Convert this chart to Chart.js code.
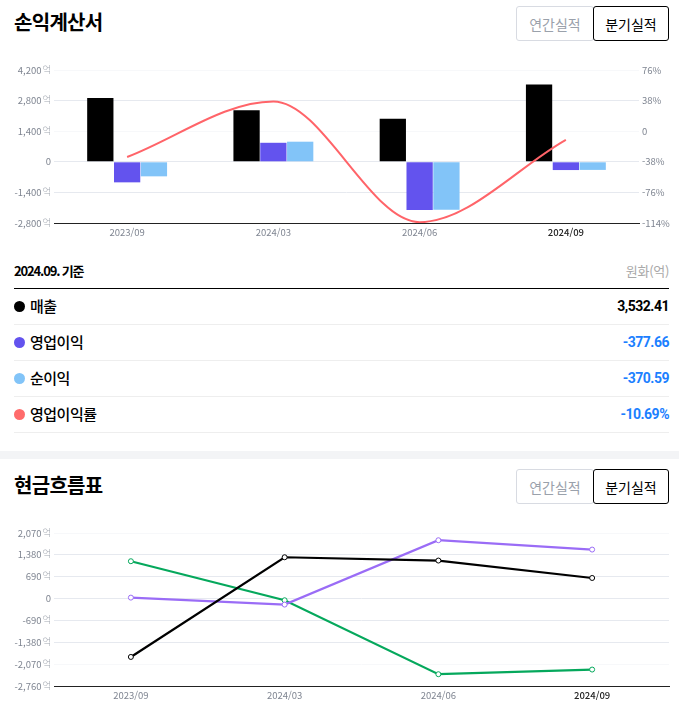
<!DOCTYPE html>
<html lang="ko">
<head>
  <meta charset="UTF-8">
  <title>손익계산서 / 현금흐름표</title>
  <script src="https://cdn.jsdelivr.net/npm/chart.js"></script>
  <style>
    html, body { margin: 0; padding: 0; background: #fff; }
    body {
      position: relative;
      width: 679px;
      height: 707px;
      overflow: hidden;
      font-family: "Noto Sans CJK KR", sans-serif;
      color: #000;
    }
    h2 {
      position: absolute;
      left: 14px;
      margin: 0;
      font-size: 20px;
      line-height: 28px;
      font-weight: 700;
      letter-spacing: -0.7px;
    }
    .toggle-btn {
      position: absolute;
      box-sizing: border-box;
      height: 35px;
      padding: 0;
      font-family: inherit;
      font-size: 14px;
      background: #fff;
      border-radius: 3px;
    }
    .toggle-btn.off { left: 516px; width: 78px; color: #9aa1ab; border: 1px solid #d8dbe2; }
    .toggle-btn.on { left: 593px; width: 76px; color: #000; border: 1px solid #000; }
    canvas { position: absolute; left: 0; }
    #summary { position: absolute; left: 14px; top: 253px; width: 655px; }
    #summary .head {
      display: flex;
      justify-content: space-between;
      align-items: center;
      height: 35px;
      border-bottom: 1px solid #000;
      font-size: 13px;
      letter-spacing: -1.15px;
    }
    #summary .head b { font-weight: 700; }
    #summary .head span { color: #a9a9a9; letter-spacing: -0.3px; }
    #summary .row {
      display: flex;
      justify-content: space-between;
      align-items: center;
      box-sizing: border-box;
      height: 36px;
      padding-bottom: 3px;
      border-bottom: 1px solid #eeeeee;
      font-size: 15px;
      font-weight: 500;
      letter-spacing: -0.5px;
    }
    #summary .dot {
      display: inline-block;
      width: 11px;
      height: 11px;
      border-radius: 50%;
      margin-right: 5px;
      vertical-align: -0.5px;
    }
    #summary .num { font-family: Roboto, sans-serif; font-weight: 700; font-size: 14px; padding-top: 1px; }
    #divider { position: absolute; left: 0; top: 451px; width: 679px; height: 8px; background: #f3f4f6; }
  </style>
</head>
<body>

<h2 style="top:8px">손익계산서</h2>
<button class="toggle-btn off" style="top:6px">연간실적</button>
<button class="toggle-btn on" style="top:6px">분기실적</button>
<canvas id="incomeChart" width="679" height="180" style="top:60px"></canvas>

<div id="summary">
  <div class="head"><b>2024.09. 기준</b><span>원화(억)</span></div>
</div>

<div id="divider"></div>

<h2 style="top:471px">현금흐름표</h2>
<button class="toggle-btn off" style="top:469px">연간실적</button>
<button class="toggle-btn on" style="top:469px">분기실적</button>
<canvas id="cashChart" width="679" height="180" style="top:523px"></canvas>

<script>
  const periods = ['2023/09', '2024/03', '2024/06', '2024/09'];

  // income statement (억, margin in %)
  const sales = [2915, 2360, 1970, 3532.41];
  const operatingProfit = [-940, 870, -2200, -377.66];
  const netProfit = [-665, 920, -2190, -370.59];
  const operatingMargin = [-32, 37, -113, -10.69];

  // cash flow (억)
  const cashBlack = [-1843, 1304, 1200, 650];
  const cashPurple = [30, -190, 1842, 1547];
  const cashGreen = [1179, -53, -2388, -2241];

  // summary table
  const summaryLabels = ['매출', '영업이익', '순이익', '영업이익률'];
  const summaryValues = ['3,532.41', '-377.66', '-370.59', '-10.69%'];

  const BLACK = '#000000';
  const INDIGO = '#6353ee';
  const SKY = '#82c4f8';
  const CORAL = '#ff6469';
  const PURPLE = '#9a6cf6';
  const GREEN = '#05a85c';
  const summaryDots = [BLACK, INDIGO, SKY, '#ff6b6b'];

  const GRID = '#e6e9ef';
  const GRID_FAINT = '#f7f8fa';
  const TICK = '#7f8591';
  const FONT = '"Noto Sans CJK KR", sans-serif';

  // table rows
  const summary = document.getElementById('summary');
  summaryLabels.forEach((label, i) => {
    const row = document.createElement('div');
    row.className = 'row';
    const negative = summaryValues[i].startsWith('-');
    row.innerHTML = `<div><span class="dot" style="background:${summaryDots[i]}"></span>${label}</div>` +
      `<div class="num" style="color:${negative ? '#1b80ff' : '#000'}">${summaryValues[i]}</div>`;
    summary.appendChild(row);
  });

  // the 억 suffix is thinner and lighter than the digits, so it goes on after the ticks
  const unitPlugin = {
    id: 'unitPlugin',
    afterDraw(chart) {
      const scale = chart.scales.y;
      const ctx = chart.ctx;
      ctx.save();
      ctx.font = '300 9.5px ' + FONT;
      ctx.fillStyle = '#a4a9b2';
      ctx.textAlign = 'left';
      ctx.textBaseline = 'middle';
      scale.ticks.forEach(t => {
        if (t.value !== 0) ctx.fillText('억', 42.5, scale.getPixelForValue(t.value) - 1);
      });
      ctx.restore();
    }
  };

  function xAxis() {
    return {
      offset: true,
      afterFit: s => { s.height = 17; },
      grid: { display: false, drawTicks: false },
      border: { color: '#222222', width: 1 },
      ticks: {
        padding: 4,
        maxRotation: 0,
        color: c => c.index === periods.length - 1 ? '#222222' : TICK,
        font: c => ({ family: FONT, size: 9.5, weight: c.index === periods.length - 1 ? 500 : 400 })
      }
    };
  }

  function leftAxis(min, max, step, faint) {
    return {
      min, max,
      afterFit: s => { s.width = 54; },
      border: { display: false },
      grid: {
        drawTicks: false,
        color: c => faint.includes(c.index) ? GRID_FAINT : GRID
      },
      ticks: {
        stepSize: step,
        padding: 3,
        color: TICK,
        font: { family: FONT, size: 9.5 },
        // em space keeps room for the suffix
        callback: v => v === 0 ? '0' : v.toLocaleString('en-US') + '\u2003'
      }
    };
  }

  new Chart(document.getElementById('incomeChart'), {
    type: 'bar',
    data: {
      labels: periods,
      datasets: [
        { type: 'line', data: operatingMargin, yAxisID: 'y1', order: 0, borderColor: CORAL, borderWidth: 2,
          pointRadius: 0, fill: false, cubicInterpolationMode: 'monotone' },
        { data: sales, backgroundColor: BLACK, order: 1 },
        { data: operatingProfit, backgroundColor: INDIGO, order: 1 },
        { data: netProfit, backgroundColor: SKY, order: 1 }
      ]
    },
    options: {
      responsive: false,
      animation: false,
      layout: { padding: { top: 10, left: 0, right: 0, bottom: 0 } },
      plugins: { legend: { display: false }, tooltip: { enabled: false } },
      datasets: { bar: { categoryPercentage: 0.55, barPercentage: 0.98 } },
      scales: {
        x: xAxis(),
        y: leftAxis(-2800, 4200, 1400, [0, 3, 5]),
        y1: {
          position: 'right',
          min: -114, max: 76,
          afterFit: s => { s.width = 40; },
          border: { display: false },
          grid: { display: false, drawTicks: false },
          ticks: {
            stepSize: 38,
            padding: 3,
            color: TICK,
            font: { family: FONT, size: 9.5 },
            callback: v => v === 0 ? '0' : v + '%'
          }
        }
      }
    },
    plugins: [unitPlugin]
  });

  const cashLine = (data, color) => ({
    data, borderColor: color, borderWidth: 2.2, tension: 0,
    pointRadius: 2.5, pointBorderWidth: 1, pointBackgroundColor: '#fff', pointBorderColor: color
  });

  new Chart(document.getElementById('cashChart'), {
    type: 'line',
    data: {
      labels: periods,
      datasets: [cashLine(cashBlack, BLACK), cashLine(cashPurple, PURPLE), cashLine(cashGreen, GREEN)]
    },
    options: {
      responsive: false,
      animation: false,
      layout: { padding: { top: 10, left: 0, right: 10, bottom: 0 } },
      plugins: { legend: { display: false }, tooltip: { enabled: false } },
      scales: {
        x: xAxis(),
        y: leftAxis(-2760, 2070, 690, [1, 7])
      }
    },
    plugins: [unitPlugin]
  });
</script>

</body>
</html>
